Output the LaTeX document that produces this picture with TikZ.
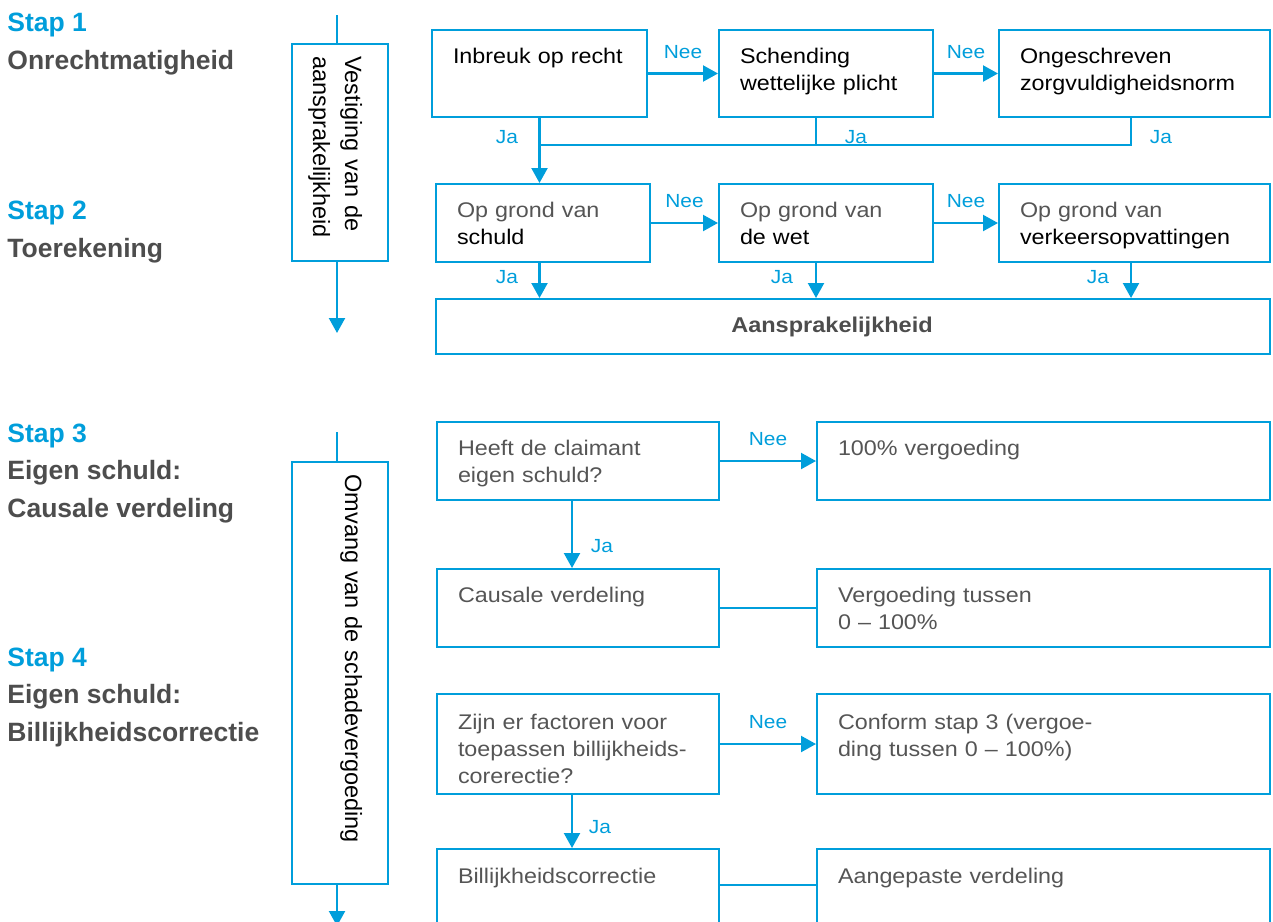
\documentclass[tikz,border=0pt]{standalone}
\usepackage{fontspec}
\setmainfont{Liberation Sans}
\newfontfamily\boxfont[FakeStretch=1.1]{Liberation Sans}
\usepackage{xcolor}
\usetikzlibrary{arrows.meta,calc}

\definecolor{ablue}{RGB}{0,158,219}
\definecolor{labelgray}{RGB}{77,77,77}
\definecolor{boxgray}{RGB}{85,85,85}

\begin{document}
\begin{tikzpicture}[x=0.5pt, y=-0.5pt,
  box/.style={draw=ablue, line width=1pt, inner xsep=10.5pt, inner ysep=0pt,
    text height=16.75pt, align=left, anchor=north west, text=boxgray,
    font=\boxfont\fontsize{10.6}{13.5}\selectfont},
  vbox/.style={draw=ablue, line width=1pt, rotate=-90, inner xsep=6.25pt, inner ysep=0pt,
    text height=21.5pt, text depth=26.5pt, align=left,
    font=\fontsize{11.75}{16}\selectfont},
  stap/.style={inner sep=0pt, align=left, anchor=base west, text=labelgray,
    font=\bfseries\fontsize{13.25}{18.75}\selectfont},
  lbl/.style={text=ablue, inner sep=0pt, font=\boxfont\fontsize{9.5}{11}\selectfont},
  nee/.style={lbl, midway, above=7pt},
  link/.style={draw=ablue, line width=1.1pt},
  arr/.style={link, -{Triangle[width=8pt,length=7.5pt]}}
]
\useasboundingbox (0,0) rectangle (1273,921);
\clip (0,0) rectangle (1273,921);

% steps on the left (base = last line)
\node[stap] (stap1) at (7,69) {\textcolor{ablue}{Stap 1}\\Onrechtmatigheid};
\node[stap] (stap2) at (7,257) {\textcolor{ablue}{Stap 2}\\Toerekening};
\node[stap] (stap3) at (7,517) {\textcolor{ablue}{Stap 3}\\Eigen schuld:\\Causale verdeling};
\node[stap] (stap4) at (7,741) {\textcolor{ablue}{Stap 4}\\Eigen schuld:\\Billijkheidscorrectie};

% vertical phase boxes
\node[vbox, text width=96pt] (vbox1) at (340,152.5) {Vestiging van de\\aansprakelijkheid};
\node[vbox, text width=198.5pt] (vbox2) at (340,673) {Omvang van de schadevergoeding};

\coordinate (v1top) at (337,15);
\coordinate (v1end) at (337,333);
\coordinate (v2top) at (337,432);
\coordinate (v2end) at (337,926);
\draw[link] (v1top) -- (v1top |- vbox1.west);
\draw[arr] (v1top |- vbox1.east) -- (v1end);
\draw[link] (v2top) -- (v2top |- vbox2.west);
\draw[arr] (v2top |- vbox2.east) -- (v2end);

% stap 1
\node[box, text=black, text width=86.5pt, text depth=26.75pt] (inbreuk) at (431,29) {Inbreuk op recht};
\node[box, text=black, text width=86pt, text depth=26.75pt] (schending) at (718,29) {Schending\\wettelijke plicht};
\node[box, text=black, text width=114.5pt, text depth=26.75pt] (ongeschr) at (998,29) {Ongeschreven\\zorgvuldigheidsnorm};

% stap 2
\node[box, text width=86pt, text depth=22.25pt] (schuld) at (435,183) {Op grond van\\\textcolor{black}{schuld}};
\node[box, text width=86pt, text depth=22.25pt] (wet) at (718,183) {Op grond van\\\textcolor{black}{de wet}};
\node[box, text width=114.5pt, text depth=22.25pt] (verkeer) at (998,183) {Op grond van\\\textcolor{black}{verkeersopvattingen}};
\node[draw=ablue, line width=1pt, minimum width=417pt, minimum height=27.5pt, inner sep=0pt,
  anchor=north west, text=labelgray, font=\boxfont\bfseries\fontsize{10.7}{13}\selectfont]
  (aans) at (435,298) {Aansprakelijkheid\hspace*{21pt}};

\draw[arr] (inbreuk) -- node[nee] (nee1) {Nee} (schending);
\draw[arr] (schending) -- node[nee] (nee2) {Nee} (ongeschr);
\draw[arr] (schuld) -- node[nee] (nee3) {Nee} (wet);
\draw[arr] (wet) -- node[nee] (nee4) {Nee} (verkeer);

\coordinate (jb) at (816,145);
\coordinate (jc) at (1131,145);
\coordinate (ja) at (inbreuk.south |- jb);
\draw[link] (ongeschr.south -| jc) -- (jc) -- (ja);
\draw[link] (schending.south -| jb) -- (jb);
\draw[arr] (inbreuk.south) -- (inbreuk.south |- schuld.north);
\draw[arr] (schuld.south -| ja) -- (aans.north -| ja);
\draw[arr] (wet.south -| jb) -- (aans.north -| jb);
\draw[arr] (verkeer.south -| jc) -- (aans.north -| jc);

\node[lbl, anchor=base] (ja1) at (507,143) {Ja};
\node[lbl, anchor=base] (ja2) at (856,143) {Ja};
\node[lbl, anchor=base] (ja3) at (1161,143) {Ja};
\node[lbl, anchor=base] (ja4) at (507,283) {Ja};
\node[lbl, anchor=base] (ja5) at (782,283) {Ja};
\node[lbl, anchor=base] (ja6) at (1098,283) {Ja};

% stap 3
\node[box, text width=120pt, text depth=22.25pt] (claimant) at (436,421) {Heeft de claimant\\eigen schuld?};
\node[box, text width=205.5pt, text depth=22.25pt] (volledig) at (816,421) {100\% vergoeding};
\node[box, text width=120pt, text depth=22.25pt] (causaal) at (436,568) {Causale verdeling};
\node[box, text width=205.5pt, text depth=22.25pt] (tussen) at (816,568) {Vergoeding tussen\\0 – 100\%};

\draw[arr] (claimant) -- node[nee] (nee5) {Nee} (volledig);
\draw[arr] ([xshift=-3pt]claimant.south) -- ([xshift=-3pt]causaal.north);
\draw[link] (causaal) -- (tussen);
\node[lbl, anchor=base] (ja7) at (602,552) {Ja};

% stap 4
\node[box, text width=120pt, text height=17.5pt, text depth=32.5pt] (factoren) at (436,693) {Zijn er factoren voor\\toepassen billijkheids-\\corerectie?};
\node[box, text width=205.5pt, text height=17.5pt, text depth=32.5pt] (conform) at (816,693) {Conform stap 3 (vergoe-\\ding tussen 0 – 100\%)};
\node[box, text width=120pt, text height=17pt, text depth=35pt] (billijk) at (436,848) {Billijkheidscorrectie};
\node[box, text width=205.5pt, text height=17pt, text depth=35pt] (aangepast) at (816,848) {Aangepaste verdeling};

\draw[arr] (factoren) -- node[nee] (nee6) {Nee} (conform);
\draw[arr] ([xshift=-3pt]factoren.south) -- ([xshift=-3pt]billijk.north);
\coordinate (mn) at (720,885);
\draw[link] (billijk.east |- mn) -- (aangepast.west |- mn);
\node[lbl, anchor=base] (ja8) at (600,833) {Ja};

\end{tikzpicture}
\end{document}
